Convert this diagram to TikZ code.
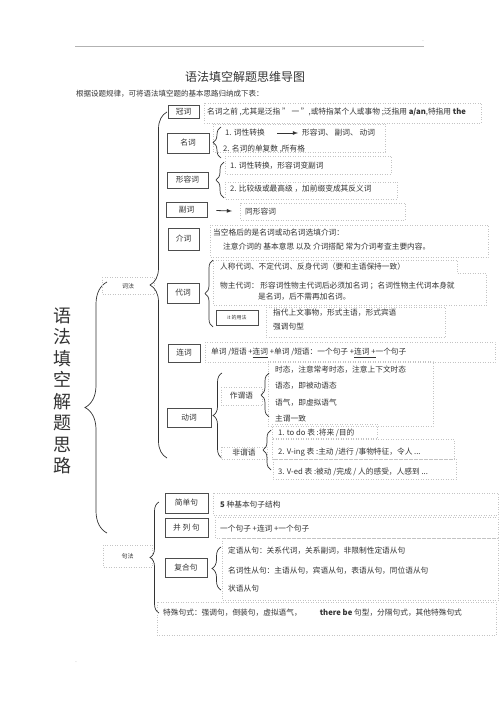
\documentclass[tikz,border=0pt]{standalone}
\usepackage{fontspec}
\setmainfont{Noto Sans CJK SC}
\usepackage{tikz}
\usetikzlibrary{arrows,decorations.pathreplacing}
\definecolor{ink}{HTML}{333333}
\definecolor{boxline}{HTML}{4D4D4D}
\definecolor{dotline}{HTML}{C4C4C4}

\begin{document}
\begin{tikzpicture}[x=1pt, y=-1pt, font=\fontsize{7.7}{9}\selectfont, text=ink]
		\tikzstyle{wbox}=[draw=boxline, line width=0.6pt, inner sep=0pt];
		\tikzstyle{lbl}=[anchor=west, inner sep=0pt];
		\tikzstyle{dotbox}=[draw=dotline, dotted, line width=0.5pt];
		\tikzstyle{brc}=[draw=ink, line width=0.7pt, decorate, decoration={brace, amplitude=8pt}];
		\tikzstyle{arr}=[draw=ink, line width=0.8pt, -latex];

		\useasboundingbox (0,0) rectangle (500,708);

		\draw[gray!60, line width=0.5pt] (75,46) -- (424,46);
		\node[inner sep=0pt, text=gray, font=\fontsize{4}{4}\selectfont] (markup) at (423,42) {-};
		\node[inner sep=0pt, text=gray, font=\fontsize{4}{4}\selectfont] (markdown) at (76,663) {-};

		\node[inner sep=0pt, font=\fontsize{12}{14}\selectfont] (title) at (245,77) {语法填空解题思维导图};
		\node[lbl, font=\fontsize{7.5}{9}\selectfont] (intro) at (76,94) {根据设题规律，可将语法填空题的基本思路归纳成下表：};

		\node[inner sep=0pt, align=center, font=\fontsize{18}{21.5}\selectfont] (root) at (62,391) {语\\法\\填\\空\\解\\题\\思\\路};
		\coordinate (roottop) at (107,282);
		\coordinate (rootbot) at (107,533);
		\draw[brc, decoration={amplitude=22pt}] (rootbot) -- (roottop);

		\draw[dotbox] (102,277) rectangle (154,294);
		\node[inner sep=0pt, font=\fontsize{6}{7}\selectfont] (cifa) at (128,286) {词法};
		\coordinate (cifatop) at (167,112);
		\coordinate (cifabot) at (167,458);
		\draw[brc, decoration={amplitude=17pt}] (cifabot) -- (cifatop);

		\draw[dotbox] (103,545) rectangle (152,567);
		\node[inner sep=0pt, font=\fontsize{6}{7}\selectfont] (jufa) at (127.5,556) {句法};
		\coordinate (jufatop) at (159,502);
		\coordinate (jufabot) at (159,613);
		\draw[brc, decoration={amplitude=9pt}] (jufabot) -- (jufatop);

		\node[wbox, minimum width=31pt, minimum height=13pt] (guanci) at (183.5,112) {冠词};
		\draw[dotbox] (204,103) rectangle (481,123);
		\node[lbl] (guancitext) at (207,112) {名词之前 ,尤其是泛指 " 一 ",或特指某个人或事物 ;泛指用 {\bfseries a/an},特指用 {\bfseries the}};

		\node[wbox, minimum width=42pt, minimum height=20pt] (mingci) at (188,143) {名词};
		\draw[dotbox] (213,124) rectangle (385,152);
		\node[lbl] (mingci1) at (225,133) {1. 词性转换};
		\node[lbl] (mingci1b) at (302,133) {形容词、 副词、 动词};
		\coordinate (mingciarrow) at (277,133);
		\draw[arr, shorten >=4pt] (mingciarrow) -- (mingci1b);
		\node[lbl] (mingci2) at (223,149) {2.  名词的单复数 ,所有格};
		\draw[brc] (221,158) -- (221,127);

		\node[wbox, minimum width=41pt, minimum height=16pt] (xingrongci) at (187.5,180) {形容词};
		\draw[dotbox] (225,156) rectangle (391,174);
		\draw[dotbox] (225,182) rectangle (397,199);
		\node[lbl] (xingrong1) at (230,166) {1.  词性转换，形容词变副词};
		\node[lbl] (xingrong2) at (230,189) {2.  比较级或最高级 ，加前缀变成其反义词};
		\draw[brc] (224,198) -- (224,162);

		\node[wbox, minimum width=41pt, minimum height=15pt] (fuci) at (186.5,209.5) {副词};
		\draw[dotbox] (240,203) rectangle (405,220);
		\node[lbl] (fucitext) at (245,212) {同形容词};
		\draw[arr, shorten <=9pt, shorten >=13pt] (fuci) -- (fucitext);

		\node[wbox, minimum width=31pt, minimum height=22pt] (jieci) at (183.5,239) {介词};
		\draw[dotbox] (210,225) rectangle (488,257);
		\node[lbl] (jieci1) at (213,233) {当空格后的是名词或动名词选填介词：};
		\node[lbl] (jieci2) at (223,247) {注意介词的 基本意思 以及 介词搭配 常为介词考查主要内容。};

		\node[wbox, minimum width=32pt, minimum height=20pt] (daici) at (183,293) {代词};
		\draw[dotbox] (213,260) -- (457,260) -- (457,273) -- (486,273) -- (486,305) -- (213,305) -- cycle;
		\node[lbl] (daici1) at (220,267) {人称代词、不定代词、反身代词（要和主语保持一致）};
		\node[lbl] (daici2) at (220,286) {物主代词：  形容词性物主代词后必须加名词 ；名词性物主代词本身就};
		\node[lbl] (daici3) at (258,297) {是名词，后不需再加名词。};
		\draw[brc] (213,327) -- (213,260);

		\node[wbox, minimum width=42pt, minimum height=15pt, font=\fontsize{5}{6}\selectfont] (itusage) at (237,317.5) {it 的用法};
		\draw[dotbox] (266,307) rectangle (445,337);
		\node[lbl] (it1) at (273,313) {指代上文事物，形式主语，形式宾语};
		\node[lbl] (it2) at (273,327) {强调句型};

		\node[wbox, minimum width=32pt, minimum height=18pt] (lianci) at (184,353) {连词};
		\draw[dotbox] (205,342) rectangle (495,362);
		\node[lbl] (liancitext) at (211,353) {单词 /短语 +\underline{连词} +单词 /短语：一个句子 +\underline{连词 +}一个句子};

		\node[wbox, minimum width=44pt, minimum height=19pt] (dongci) at (189,417.5) {动词};
		\draw[brc, decoration={amplitude=9pt}] (222,458) -- (222,373);

		\draw[dotbox] (221,387) rectangle (262,405);
		\node[inner sep=0pt] (zuoweiyu) at (241.5,396) {作谓语};
		\draw[dotbox] (268,361) rectangle (433,426);
		\node[lbl] (weiyu1) at (275,370) {时态，注意常考时态，注意上下文时态};
		\node[lbl] (weiyu2) at (275,386) {语态，即被动语态};
		\node[lbl] (weiyu3) at (275,403) {语气，即虚拟语气};
		\node[lbl] (weiyu4) at (275,419) {主谓一致};
		\draw[brc] (269,417) -- (269,373);

		\draw[dotbox] (221,447) rectangle (267,459);
		\node[inner sep=0pt] (feiweiyu) at (244,453) {非谓语};
		\draw[dotbox] (272,424) rectangle (377,438);
		\draw[dotbox] (272,439) rectangle (454,459);
		\draw[dotbox] (273,459) rectangle (456,479);
		\node[lbl] (feiwei1) at (278,433) {1. to do  表 :将来 /目的};
		\node[lbl] (feiwei2) at (278,452) {2. V-ing  表 :主动 /进行 /事物特征，令人 ...};
		\node[lbl] (feiwei3) at (278,472) {3. V-ed   表 :被动 /完成 / 人的感受，人感到 ...};
		\draw[brc] (271,470) -- (271,430);

		\node[wbox, minimum width=43pt, minimum height=20pt, line width=0.8pt] (jiandan) at (186.5,503) {简单句};
		\draw[dotbox] (213,493) rectangle (498,515);
		\node[lbl] (jiandantext) at (220,505) {{\bfseries 5} 种基本句子结构};

		\node[wbox, minimum width=43pt, minimum height=19pt, line width=0.8pt] (binglie) at (186.5,527.5) {并 列 句};
		\draw[dotbox] (215,517) rectangle (498,538);
		\node[lbl] (bingLietext) at (220,529) {一个句子 +连词 +一个句子};

		\node[wbox, minimum width=42pt, minimum height=19pt] (fuhe) at (186,567.5) {复合句};
		\draw[dotbox] (222,538) rectangle (498,600);
		\node[lbl] (fuhe1) at (228,551) {定语从句：关系代词，关系副词，非限制性定语从句};
		\node[lbl] (fuhe2) at (228,571) {名词性从句：主语从句，宾语从句，表语从句，同位语从句};
		\node[lbl] (fuhe3) at (228,589) {状语从句};
		\draw[brc, decoration={amplitude=9pt}] (221,590) -- (221,547);

		\draw[dotbox] (157,602) rectangle (496,635);
		\node[lbl] (teshu) at (163,613) {特殊句式：强调句，倒装句，虚拟语气，\hspace{18pt}{\bfseries there be} 句型，分隔句式，其他特殊句式};
	\end{tikzpicture}
\end{document}
